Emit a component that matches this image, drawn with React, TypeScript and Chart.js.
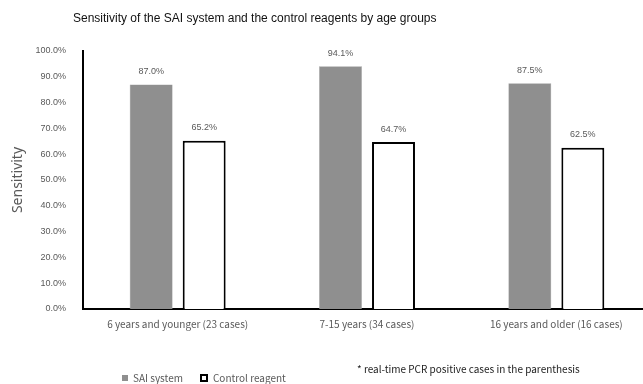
import React, { useEffect, useRef } from "react";
import { Chart, registerables } from "chart.js";

Chart.register(...registerables);

const categories = [
  "6 years and younger (23 cases)",
  "7-15 years (34 cases)",
  "16 years and older (16 cases)",
];
const saiValues = [87.0, 94.1, 87.5];
const controlValues = [65.2, 64.7, 62.5];
const yTicks = [0, 10, 20, 30, 40, 50, 60, 70, 80, 90, 100];

const TITLE = "Sensitivity of the SAI system and the control reagents by age groups";
const NOTE = "* real-time PCR positive cases in the parenthesis";
const GRAY = "#8f8f8f";
const TEXT = "#595959";
const JP = '"Noto Sans CJK JP", "Noto Sans", sans-serif';

const valueLabels = {
  id: "valueLabels",
  afterDatasetsDraw(chart: any) {
    const ctx = chart.ctx;
    ctx.save();
    ctx.font = '9px "Liberation Sans", Arial, sans-serif';
    ctx.fillStyle = TEXT;
    ctx.textAlign = "center";
    ctx.textBaseline = "middle";
    chart.data.datasets.forEach((ds: any, di: number) => {
      const meta = chart.getDatasetMeta(di);
      meta.data.forEach((el: any, i: number) => {
        ctx.fillText(Number(ds.data[i]).toFixed(1) + "%", el.x, el.y - 13);
      });
    });
    ctx.restore();
  },
};

export default function App() {
  const ref = useRef<HTMLCanvasElement | null>(null);
  useEffect(() => {
    if (!ref.current) return;
    const chart = new Chart(ref.current, {
      type: "bar",
      data: {
        labels: categories,
        datasets: [
          {
            label: "SAI system",
            data: saiValues,
            backgroundColor: GRAY,
            borderColor: "#a0a0a0",
            borderWidth: 0.5,
          },
          {
            label: "Control reagent",
            data: controlValues,
            backgroundColor: "#ffffff",
            borderColor: "#000000",
            borderWidth: 2,
          },
        ],
      },
      options: {
        responsive: false,
        animation: false,
        devicePixelRatio: 1,
        layout: { padding: { top: 51, left: 0, right: 0, bottom: 0 } },
        datasets: { bar: { categoryPercentage: 0.56, barPercentage: 0.81 } },
        plugins: {
          legend: { display: false },
          title: { display: false },
          tooltip: { enabled: false },
        },
        scales: {
          x: {
            grid: { display: false, drawTicks: false },
            border: { display: true, color: "#000", width: 2 },
            ticks: {
              color: TEXT,
              font: { family: JP, size: 10 },
              padding: 9,
              maxRotation: 0,
              autoSkip: false,
            },
            afterFit(scale: any) {
              scale.height = 75;
            },
          },
          y: {
            min: 0,
            max: 100,
            afterBuildTicks(scale: any) {
              scale.ticks = yTicks.map((v) => ({ value: v }));
            },
            grid: { display: false, drawTicks: false },
            border: { display: true, color: "#000", width: 2 },
            ticks: {
              color: TEXT,
              font: { family: '"Liberation Sans", Arial, sans-serif', size: 9 },
              padding: 17,
              callback: (v: any) => Number(v).toFixed(1) + "%",
            },
            title: {
              display: true,
              text: "Sensitivity",
              color: TEXT,
              font: { family: '"Noto Sans", sans-serif', size: 14 },
              padding: { top: 10, bottom: 0 },
            },
            afterFit(scale: any) {
              scale.width = 83;
            },
          },
        },
      },
      plugins: [valueLabels],
    });
    return () => chart.destroy();
  }, []);

  return (
    <div
      style={{
        position: "fixed",
        left: 0,
        top: 0,
        width: 643,
        height: 384,
        overflow: "hidden",
        background: "#fff",
      }}
    >
      <canvas ref={ref} width={651} height={384} style={{ display: "block" }} />
      <div
        style={{
          position: "absolute",
          left: 73,
          top: 10,
          font: '12px "Liberation Sans", Arial, sans-serif',
          color: "#111",
          whiteSpace: "nowrap",
          lineHeight: "16px",
        }}
      >
        {TITLE}
      </div>
      <div
        style={{
          position: "absolute",
          left: 122,
          top: 371,
          display: "flex",
          alignItems: "center",
          font: `10px ${JP}`,
          color: TEXT,
          whiteSpace: "nowrap",
          lineHeight: "14px",
        }}
      >
        <span style={{ display: "inline-block", width: 6, height: 6, background: GRAY, marginRight: 5 }} />
        <span>SAI system</span>
        <span
          style={{
            display: "inline-block",
            width: 4,
            height: 4,
            border: "2px solid #000",
            background: "#fff",
            marginLeft: 17,
            marginRight: 5,
          }}
        />
        <span>Control reagent</span>
      </div>
      <div
        style={{
          position: "absolute",
          left: 357,
          top: 362,
          font: `10px ${JP}`,
          color: "#222",
          whiteSpace: "nowrap",
          lineHeight: "14px",
        }}
      >
        {NOTE}
      </div>
    </div>
  );
}
